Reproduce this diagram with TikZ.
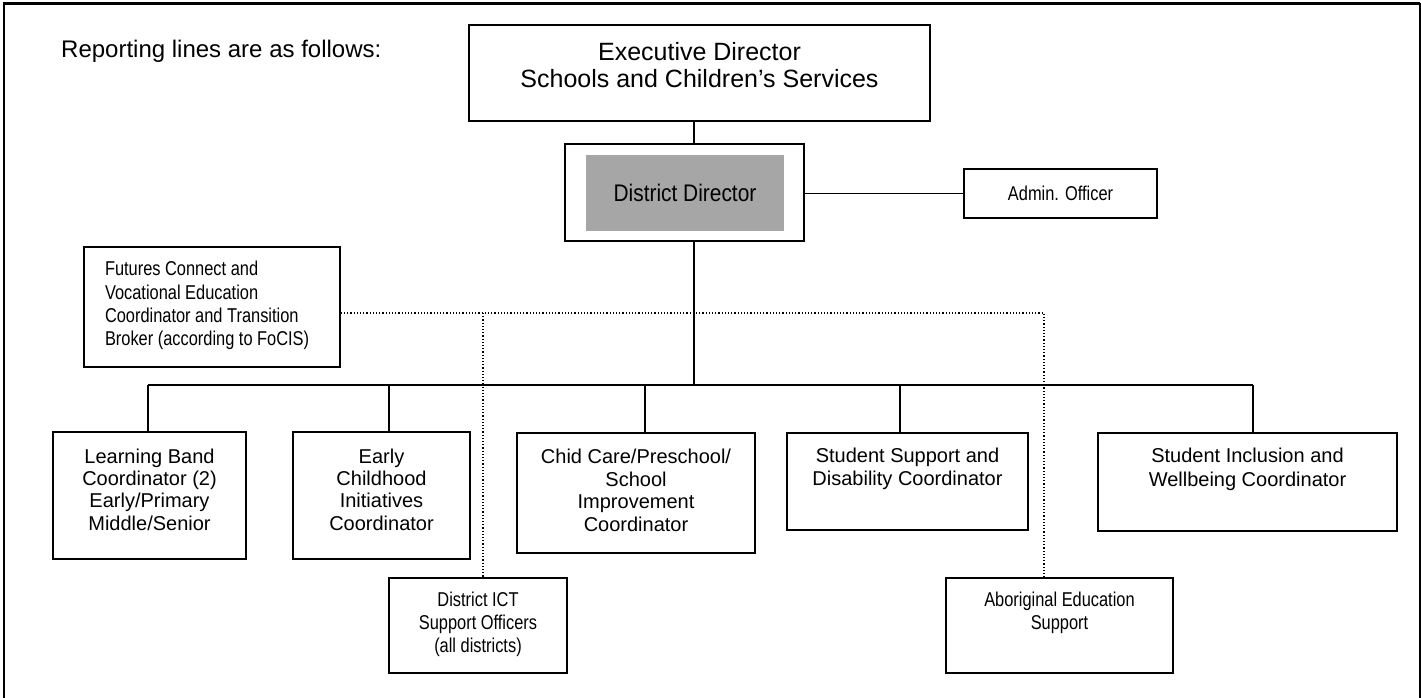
\documentclass[tikz,border=0pt]{standalone}
\usepackage{fontspec}
\setmainfont{Liberation Sans}
\newfontfamily\narrowfont[FakeStretch=0.82]{Liberation Sans}
\newfontfamily\ddfont[FakeStretch=0.87]{Liberation Sans}
\newcommand{\bxt}[4]{\parbox[c][#2pt][t]{#1pt}{\centering\vspace*{#3pt}#4}}
\definecolor{ddgray}{RGB}{166,166,166}
\begin{document}
\begin{tikzpicture}[x=1pt,y=-1pt,
  box/.style={draw,line width=1.6pt,inner sep=0pt},
  conn/.style={line width=1.4pt},
  dotline/.style={line width=1.2pt,dotted},
  regular/.style={font=\fontsize{20}{22.4}\selectfont},
  narrow/.style={font=\narrowfont\fontsize{20}{23.2}\selectfont}]
\useasboundingbox (0,0) rectangle (1421,698);
% frame
\draw[line width=2.5pt] (4,705) -- (4,3.5) -- (1420,3.5);
\draw[line width=1.2pt] (1420,3) -- (1420,705);

\node[anchor=base west,inner sep=0pt,font=\fontsize{24}{28}\selectfont] (rep) at (61,57.5) {Reporting lines are as follows:};

\node[box,font=\fontsize{25}{26.7}\selectfont] (exec) at (699.5,73)
  {\bxt{461}{96}{17.5}{Executive Director\\Schools and Children’s Services}};

\node[box,minimum width=239pt,minimum height=97pt] (ddo) at (684.5,192.5) {};
\node[fill=ddgray,inner sep=0pt,minimum width=198pt,minimum height=76pt,
  font=\ddfont\fontsize{24}{28}\selectfont] (dd) at (685,193) {\raisebox{-4pt}{District Director}};

\node[box,narrow,minimum width=193pt,minimum height=49pt] (admin) at (1060.5,193.5) {Admin. Officer};

\node[box,narrow] (fut) at (212,307)
  {\parbox[c][120pt][t]{256pt}{\raggedright\leftskip=21pt\vspace*{14.5pt}Futures Connect and\\Vocational Education\\Coordinator and Transition\\Broker (according to FoCIS)}};

\node[box,regular] (lb) at (149.5,495.5)
  {\bxt{193}{127}{16.7}{Learning Band\\Coordinator (2)\\Early/Primary\\Middle/Senior}};
\node[box,regular] (ec) at (381.5,495.5)
  {\bxt{177}{127}{16.7}{Early\\Childhood\\Initiatives\\Coordinator}};
\node[box,regular] (cc) at (636,493)
  {\bxt{238}{120}{16.5}{Chid Care/Preschool/\\School\\Improvement\\Coordinator}};
\node[box,font=\fontsize{20}{23}\selectfont] (ss) at (907.5,481.5)
  {\bxt{241}{97}{15.5}{Student Support and\\Disability Coordinator}};
\node[box,font=\fontsize{20}{24}\selectfont] (si) at (1247.5,482)
  {\bxt{299}{98}{15}{Student Inclusion and\\Wellbeing Coordinator}};

\node[box,narrow] (ict) at (478,625.5)
  {\bxt{178}{95}{13.7}{District ICT\\Support Officers\\(all districts)}};
\node[box,narrow] (abo) at (1059.5,625.5)
  {\bxt{227}{95}{13.7}{Aboriginal Education\\Support}};

% solid connectors
\coordinate (tj) at (694,385);
\coordinate (bL) at (148,385);
\coordinate (d2) at (389,385);
\coordinate (d3) at (645,385);
\coordinate (d4) at (900,385);
\coordinate (bR) at (1253,385);
\draw[conn] (exec.south -| tj) -- (ddo.north -| tj);
\draw[conn] (ddo.south -| tj) -- (tj);
\draw[conn] (ddo.east |- admin.west) -- (admin.west);
\draw[conn] (bL) -- (bR);
\draw[conn] (bL) -- (bL |- lb.north);
\draw[conn] (d2) -- (d2 |- ec.north);
\draw[conn] (d3) -- (d3 |- cc.north);
\draw[conn] (d4) -- (d4 |- ss.north);
\draw[conn] (bR) -- (bR |- si.north);

% dotted connectors
\coordinate (dl) at (483,313);
\coordinate (dr) at (1044,313);
\draw[dotline] (fut.east |- dl) -- (dr) -- (dr |- abo.north);
\draw[dotline] (dl) -- (dl |- ict.north);
\end{tikzpicture}
\end{document}
